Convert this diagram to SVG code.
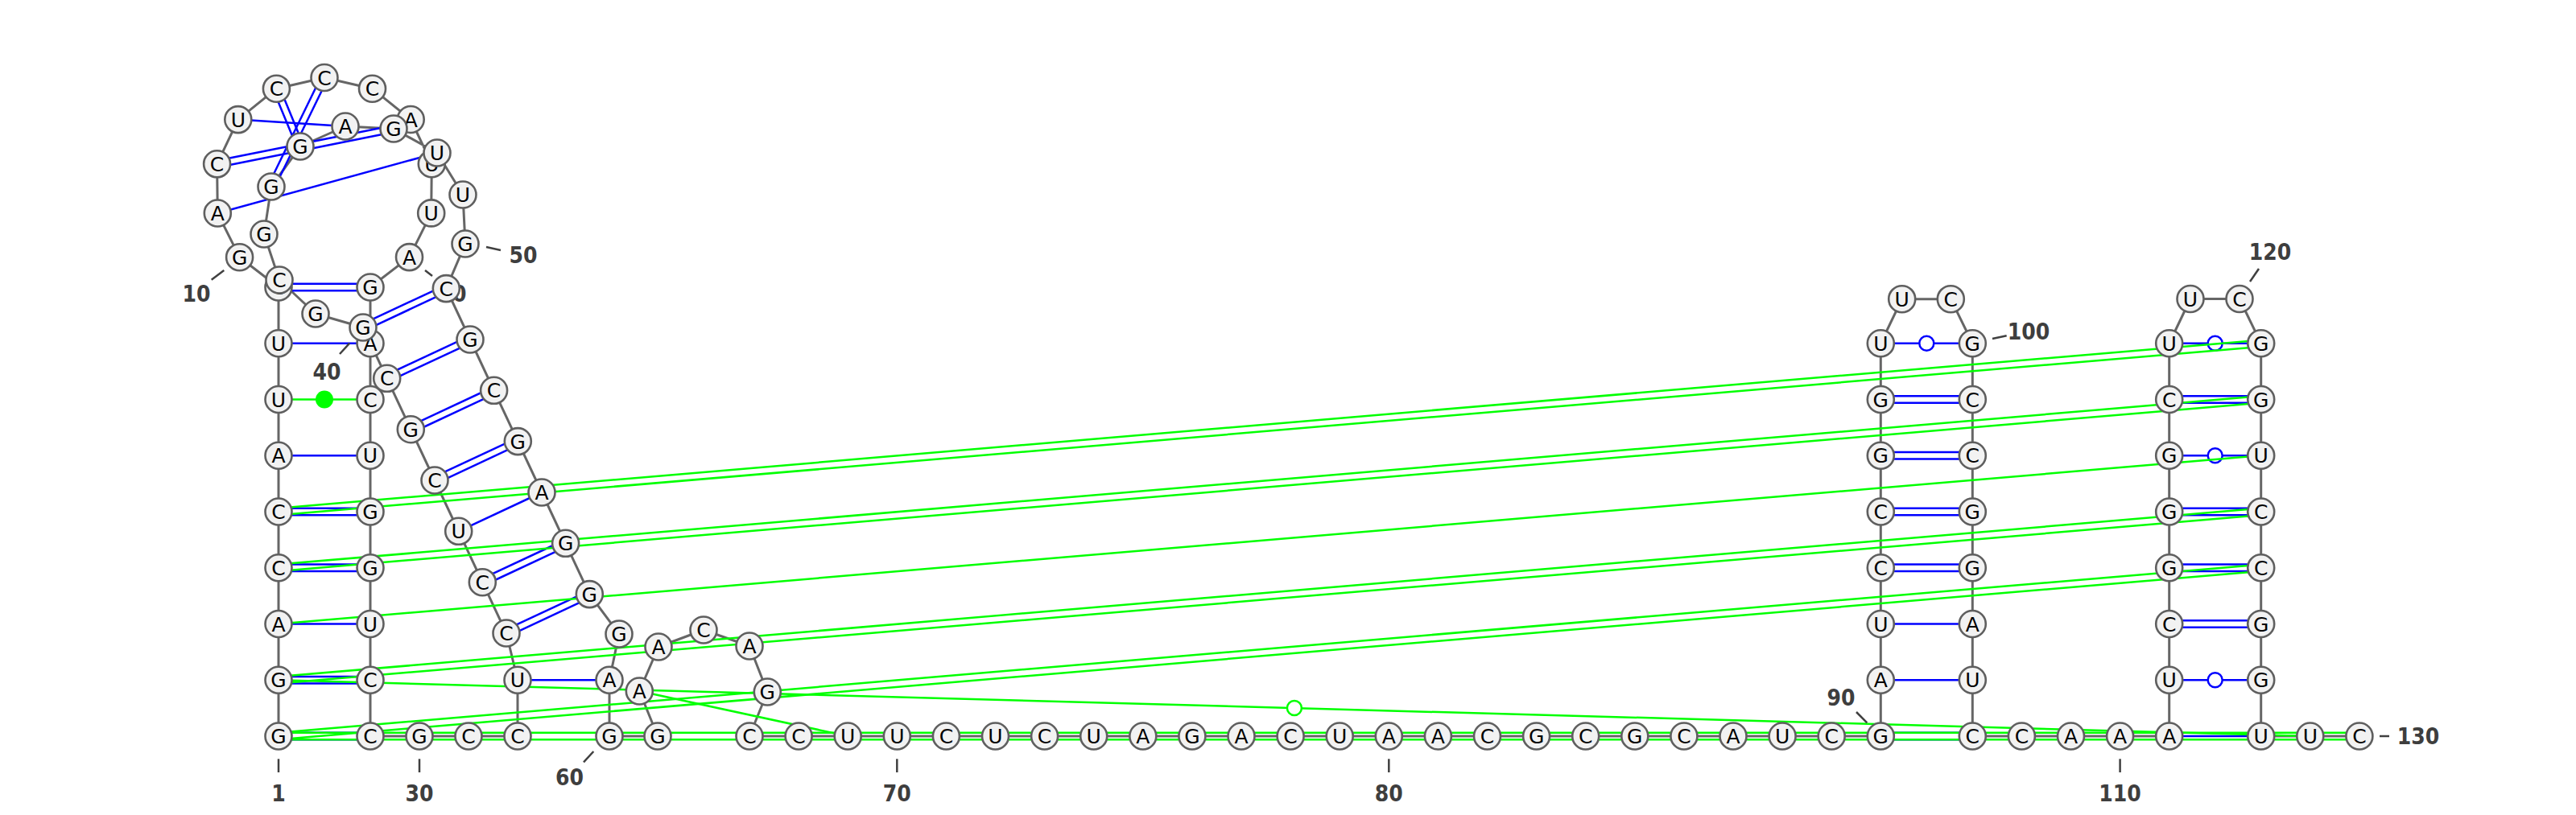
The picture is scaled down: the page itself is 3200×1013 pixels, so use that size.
<svg xmlns="http://www.w3.org/2000/svg" width="3200" height="1013" viewBox="0 0 3200 1013">
<style>
.bb{fill:none;stroke:#666666;stroke-width:3;stroke-linejoin:round}
.bp{stroke:#0000ff;stroke-width:2.5;fill:none}
.ap{stroke:#00ff00;stroke-width:2.5;fill:none}
.wb{fill:#ffffff;stroke:#0000ff;stroke-width:2.5}
.wg{fill:#ffffff;stroke:#00ff00;stroke-width:2.5}
.fg{fill:#00ff00;stroke:none}
.tk{stroke:#404040;stroke-width:2.5}
.lb{font-family:'DejaVu Sans',sans-serif;font-size:28px;font-weight:bold;fill:#3e3e3e;text-anchor:middle}
.nd circle{fill:#f2f2f2;stroke:#5f5f5f;stroke-width:2.6}
.nd text{font-family:'DejaVu Sans',sans-serif;font-size:25px;fill:#000000;text-anchor:middle}
</style>
<rect width="3200" height="1013" fill="#ffffff"/>
<g id="connectors">
<polyline class="bb" points="346,915 346,845.25 346,775.5 346,705.75 346,636 346,566.25 346,496.5 346,426.75 346,357 297.6,319.7 270.3,265 269.6,203.8 295.8,148.6 343.4,110.2 403,96.5 462.5,110.2 510.2,148.5 536.3,203.7 535.7,264.9 508.5,319.6 460,357 460,426.75 460,496.5 460,566.25 460,636 460,705.75 460,775.5 460,845.25 460,915 521,915 582,915 643,915 643,845.25 629,787 599.3,723.7 569.7,660.3 540,597 510.3,533.7 480.7,470.3 451,407 392,390 347,348 328,291 337,232 373,182 429,157 489,160 543,190 575,242 578,303 554.3,358.6 584,422 613.6,485.3 643.3,548.6 673,612 702.6,675.3 732.3,738.6 769,788 757,845.25 757,915 817,915 794.3,859 818,804 874,783 931,803 953.3,860 931,915 2336.3,915 2336.3,845.25 2336.3,775.5 2336.3,705.75 2336.3,636 2336.3,566.25 2336.3,496.5 2336.3,426.75 2362.7,371.7 2423.3,371.7 2450.3,426.75 2450.3,496.5 2450.3,566.25 2450.3,636 2450.3,705.75 2450.3,775.5 2450.3,845.25 2450.3,915 2694.7,915 2694.7,845.25 2694.7,775.5 2694.7,705.75 2694.7,636 2694.7,566.25 2694.7,496.5 2694.7,426.75 2721,371.5 2782,371.5 2808.7,426.75 2808.7,496.5 2808.7,566.25 2808.7,636 2808.7,705.75 2808.7,775.5 2808.7,845.25 2808.7,915 2930.9,915"/>
<g id="pairs">
<line class="bp" x1="346" y1="910.8" x2="460" y2="910.8"/><line class="bp" x1="346" y1="919.2" x2="460" y2="919.2"/>
<line class="bp" x1="346" y1="841.05" x2="460" y2="841.05"/><line class="bp" x1="346" y1="849.45" x2="460" y2="849.45"/>
<line class="bp" x1="346" y1="775.5" x2="460" y2="775.5"/>
<line class="bp" x1="346" y1="701.55" x2="460" y2="701.55"/><line class="bp" x1="346" y1="709.95" x2="460" y2="709.95"/>
<line class="bp" x1="346" y1="631.8" x2="460" y2="631.8"/><line class="bp" x1="346" y1="640.2" x2="460" y2="640.2"/>
<line class="bp" x1="346" y1="566.25" x2="460" y2="566.25"/>
<line class="bp" x1="346" y1="426.75" x2="460" y2="426.75"/>
<line class="bp" x1="346" y1="352.8" x2="460" y2="352.8"/><line class="bp" x1="346" y1="361.2" x2="460" y2="361.2"/>
<line class="bp" x1="270.3" y1="265" x2="543" y2="190"/>
<line class="bp" x1="270.4" y1="207.9" x2="489.8" y2="164.1"/><line class="bp" x1="268.8" y1="199.7" x2="488.2" y2="155.9"/>
<line class="bp" x1="295.8" y1="148.6" x2="429" y2="157"/>
<line class="bp" x1="339.5" y1="111.8" x2="369.1" y2="183.6"/><line class="bp" x1="347.3" y1="108.6" x2="376.9" y2="180.4"/>
<line class="bp" x1="399.2" y1="94.7" x2="333.2" y2="230.2"/><line class="bp" x1="406.8" y1="98.3" x2="340.8" y2="233.8"/>
<line class="bp" x1="643" y1="845.25" x2="757" y2="845.25"/>
<line class="bp" x1="630.8" y1="790.8" x2="734.1" y2="742.4"/><line class="bp" x1="627.2" y1="783.2" x2="730.5" y2="734.8"/>
<line class="bp" x1="601.1" y1="727.5" x2="704.4" y2="679.1"/><line class="bp" x1="597.5" y1="719.9" x2="700.8" y2="671.5"/>
<line class="bp" x1="569.7" y1="660.3" x2="673" y2="612"/>
<line class="bp" x1="541.8" y1="600.8" x2="645.1" y2="552.4"/><line class="bp" x1="538.2" y1="593.2" x2="641.5" y2="544.8"/>
<line class="bp" x1="512.1" y1="537.5" x2="615.4" y2="489.1"/><line class="bp" x1="508.5" y1="529.9" x2="611.8" y2="481.5"/>
<line class="bp" x1="482.5" y1="474.1" x2="585.8" y2="425.8"/><line class="bp" x1="478.9" y1="466.5" x2="582.2" y2="418.2"/>
<line class="bp" x1="452.8" y1="410.8" x2="556.1" y2="362.4"/><line class="bp" x1="449.2" y1="403.2" x2="552.5" y2="354.8"/>
<line class="bp" x1="2336.3" y1="910.8" x2="2450.3" y2="910.8"/><line class="bp" x1="2336.3" y1="919.2" x2="2450.3" y2="919.2"/>
<line class="bp" x1="2336.3" y1="845.25" x2="2450.3" y2="845.25"/>
<line class="bp" x1="2336.3" y1="775.5" x2="2450.3" y2="775.5"/>
<line class="bp" x1="2336.3" y1="701.55" x2="2450.3" y2="701.55"/><line class="bp" x1="2336.3" y1="709.95" x2="2450.3" y2="709.95"/>
<line class="bp" x1="2336.3" y1="631.8" x2="2450.3" y2="631.8"/><line class="bp" x1="2336.3" y1="640.2" x2="2450.3" y2="640.2"/>
<line class="bp" x1="2336.3" y1="562.05" x2="2450.3" y2="562.05"/><line class="bp" x1="2336.3" y1="570.45" x2="2450.3" y2="570.45"/>
<line class="bp" x1="2336.3" y1="492.3" x2="2450.3" y2="492.3"/><line class="bp" x1="2336.3" y1="500.7" x2="2450.3" y2="500.7"/>
<line class="bp" x1="2336.3" y1="426.75" x2="2450.3" y2="426.75"/><circle class="wb" cx="2393.3" cy="426.75" r="9"/>
<line class="bp" x1="2694.7" y1="915" x2="2808.7" y2="915"/>
<line class="bp" x1="2694.7" y1="845.25" x2="2808.7" y2="845.25"/><circle class="wb" cx="2751.7" cy="845.25" r="9"/>
<line class="bp" x1="2694.7" y1="771.3" x2="2808.7" y2="771.3"/><line class="bp" x1="2694.7" y1="779.7" x2="2808.7" y2="779.7"/>
<line class="bp" x1="2694.7" y1="701.55" x2="2808.7" y2="701.55"/><line class="bp" x1="2694.7" y1="709.95" x2="2808.7" y2="709.95"/>
<line class="bp" x1="2694.7" y1="631.8" x2="2808.7" y2="631.8"/><line class="bp" x1="2694.7" y1="640.2" x2="2808.7" y2="640.2"/>
<line class="bp" x1="2694.7" y1="566.25" x2="2808.7" y2="566.25"/><circle class="wb" cx="2751.7" cy="566.25" r="9"/>
<line class="bp" x1="2694.7" y1="492.3" x2="2808.7" y2="492.3"/><line class="bp" x1="2694.7" y1="500.7" x2="2808.7" y2="500.7"/>
<line class="bp" x1="2694.7" y1="426.75" x2="2808.7" y2="426.75"/><circle class="wb" cx="2751.7" cy="426.75" r="9"/>
</g>
<g id="tertiary">
<line class="ap" x1="346" y1="910.8" x2="2930.9" y2="910.8"/><line class="ap" x1="346" y1="919.2" x2="2930.9" y2="919.2"/>
<line class="ap" x1="346.4" y1="919.2" x2="2809.1" y2="709.9"/><line class="ap" x1="345.6" y1="910.8" x2="2808.3" y2="701.6"/>
<line class="ap" x1="346.4" y1="849.4" x2="2809.1" y2="640.2"/><line class="ap" x1="345.6" y1="841.1" x2="2808.3" y2="631.8"/>
<line class="ap" x1="346" y1="775.5" x2="2808.7" y2="566.25"/>
<line class="ap" x1="346.4" y1="709.9" x2="2809.1" y2="500.7"/><line class="ap" x1="345.6" y1="701.6" x2="2808.3" y2="492.3"/>
<line class="ap" x1="346.4" y1="640.2" x2="2809.1" y2="430.9"/><line class="ap" x1="345.6" y1="631.8" x2="2808.3" y2="422.6"/>
<line class="ap" x1="346" y1="845.25" x2="2869.8" y2="915"/><circle class="wg" cx="1607.9" cy="880.1" r="9"/>
<line class="ap" x1="346" y1="496.5" x2="460" y2="496.5"/><circle class="fg" cx="403" cy="496.5" r="11"/>
<line class="ap" x1="794.3" y1="859" x2="1053.2" y2="915"/>
</g>
</g>
<g id="labels">
<line class="tk" x1="346" y1="943.3" x2="346" y2="960"/><text class="lb" x="346" y="996" textLength="17.5" lengthAdjust="spacingAndGlyphs">1</text>
<line class="tk" x1="262.7" y1="347.7" x2="278.3" y2="336"/><text class="lb" x="244" y="375" textLength="35" lengthAdjust="spacingAndGlyphs">10</text>
<line class="tk" x1="528" y1="336" x2="537" y2="343"/><text class="lb" x="562" y="375" textLength="35" lengthAdjust="spacingAndGlyphs">20</text>
<line class="tk" x1="521" y1="943.3" x2="521" y2="960"/><text class="lb" x="521" y="996" textLength="35" lengthAdjust="spacingAndGlyphs">30</text>
<line class="tk" x1="422" y1="440" x2="434.2" y2="426.7"/><text class="lb" x="406" y="471.7" textLength="35" lengthAdjust="spacingAndGlyphs">40</text>
<line class="tk" x1="604" y1="307" x2="622" y2="311"/><text class="lb" x="650" y="327" textLength="35" lengthAdjust="spacingAndGlyphs">50</text>
<line class="tk" x1="737.3" y1="934" x2="725" y2="947.3"/><text class="lb" x="707.5" y="976" textLength="35" lengthAdjust="spacingAndGlyphs">60</text>
<line class="tk" x1="1114.3" y1="943.3" x2="1114.3" y2="960"/><text class="lb" x="1114.3" y="996" textLength="35" lengthAdjust="spacingAndGlyphs">70</text>
<line class="tk" x1="1725.3" y1="943.3" x2="1725.3" y2="960"/><text class="lb" x="1725.3" y="996" textLength="35" lengthAdjust="spacingAndGlyphs">80</text>
<line class="tk" x1="2306" y1="885" x2="2319.3" y2="898.3"/><text class="lb" x="2287" y="877" textLength="35" lengthAdjust="spacingAndGlyphs">90</text>
<line class="tk" x1="2475" y1="421" x2="2492.7" y2="417.3"/><text class="lb" x="2520" y="421.7" textLength="52.5" lengthAdjust="spacingAndGlyphs">100</text>
<line class="tk" x1="2633.6" y1="943.3" x2="2633.6" y2="960"/><text class="lb" x="2633.6" y="996" textLength="52.5" lengthAdjust="spacingAndGlyphs">110</text>
<line class="tk" x1="2806" y1="334" x2="2795" y2="350"/><text class="lb" x="2820" y="323.3" textLength="52.5" lengthAdjust="spacingAndGlyphs">120</text>
<line class="tk" x1="2956" y1="915" x2="2968" y2="915"/><text class="lb" x="3004" y="925" textLength="52.5" lengthAdjust="spacingAndGlyphs">130</text>
</g>
<g id="nodes">
<g id="n1" class="nd"><circle cx="346" cy="915" r="16.5"/><text x="346" y="924">G</text></g>
<g id="n2" class="nd"><circle cx="346" cy="845.25" r="16.5"/><text x="346" y="854.25">G</text></g>
<g id="n3" class="nd"><circle cx="346" cy="775.5" r="16.5"/><text x="346" y="784.5">A</text></g>
<g id="n4" class="nd"><circle cx="346" cy="705.75" r="16.5"/><text x="346" y="714.75">C</text></g>
<g id="n5" class="nd"><circle cx="346" cy="636" r="16.5"/><text x="346" y="645">C</text></g>
<g id="n6" class="nd"><circle cx="346" cy="566.25" r="16.5"/><text x="346" y="575.25">A</text></g>
<g id="n7" class="nd"><circle cx="346" cy="496.5" r="16.5"/><text x="346" y="505.5">U</text></g>
<g id="n8" class="nd"><circle cx="346" cy="426.75" r="16.5"/><text x="346" y="435.75">U</text></g>
<g id="n9" class="nd"><circle cx="346" cy="357" r="16.5"/><text x="346" y="366">C</text></g>
<g id="n10" class="nd"><circle cx="297.6" cy="319.7" r="16.5"/><text x="297.6" y="328.7">G</text></g>
<g id="n11" class="nd"><circle cx="270.3" cy="265" r="16.5"/><text x="270.3" y="274">A</text></g>
<g id="n12" class="nd"><circle cx="269.6" cy="203.8" r="16.5"/><text x="269.6" y="212.8">C</text></g>
<g id="n13" class="nd"><circle cx="295.8" cy="148.6" r="16.5"/><text x="295.8" y="157.6">U</text></g>
<g id="n14" class="nd"><circle cx="343.4" cy="110.2" r="16.5"/><text x="343.4" y="119.2">C</text></g>
<g id="n15" class="nd"><circle cx="403" cy="96.5" r="16.5"/><text x="403" y="105.5">C</text></g>
<g id="n16" class="nd"><circle cx="462.5" cy="110.2" r="16.5"/><text x="462.5" y="119.2">C</text></g>
<g id="n17" class="nd"><circle cx="510.2" cy="148.5" r="16.5"/><text x="510.2" y="157.5">A</text></g>
<g id="n18" class="nd"><circle cx="536.3" cy="203.7" r="16.5"/><text x="536.3" y="212.7">U</text></g>
<g id="n19" class="nd"><circle cx="535.7" cy="264.9" r="16.5"/><text x="535.7" y="273.9">U</text></g>
<g id="n20" class="nd"><circle cx="508.5" cy="319.6" r="16.5"/><text x="508.5" y="328.6">A</text></g>
<g id="n21" class="nd"><circle cx="460" cy="357" r="16.5"/><text x="460" y="366">G</text></g>
<g id="n22" class="nd"><circle cx="460" cy="426.75" r="16.5"/><text x="460" y="435.75">A</text></g>
<g id="n23" class="nd"><circle cx="460" cy="496.5" r="16.5"/><text x="460" y="505.5">C</text></g>
<g id="n24" class="nd"><circle cx="460" cy="566.25" r="16.5"/><text x="460" y="575.25">U</text></g>
<g id="n25" class="nd"><circle cx="460" cy="636" r="16.5"/><text x="460" y="645">G</text></g>
<g id="n26" class="nd"><circle cx="460" cy="705.75" r="16.5"/><text x="460" y="714.75">G</text></g>
<g id="n27" class="nd"><circle cx="460" cy="775.5" r="16.5"/><text x="460" y="784.5">U</text></g>
<g id="n28" class="nd"><circle cx="460" cy="845.25" r="16.5"/><text x="460" y="854.25">C</text></g>
<g id="n29" class="nd"><circle cx="460" cy="915" r="16.5"/><text x="460" y="924">C</text></g>
<g id="n30" class="nd"><circle cx="521" cy="915" r="16.5"/><text x="521" y="924">G</text></g>
<g id="n31" class="nd"><circle cx="582" cy="915" r="16.5"/><text x="582" y="924">C</text></g>
<g id="n32" class="nd"><circle cx="643" cy="915" r="16.5"/><text x="643" y="924">C</text></g>
<g id="n33" class="nd"><circle cx="643" cy="845.25" r="16.5"/><text x="643" y="854.25">U</text></g>
<g id="n34" class="nd"><circle cx="629" cy="787" r="16.5"/><text x="629" y="796">C</text></g>
<g id="n35" class="nd"><circle cx="599.3" cy="723.7" r="16.5"/><text x="599.3" y="732.7">C</text></g>
<g id="n36" class="nd"><circle cx="569.7" cy="660.3" r="16.5"/><text x="569.7" y="669.3">U</text></g>
<g id="n37" class="nd"><circle cx="540" cy="597" r="16.5"/><text x="540" y="606">C</text></g>
<g id="n38" class="nd"><circle cx="510.3" cy="533.7" r="16.5"/><text x="510.3" y="542.7">G</text></g>
<g id="n39" class="nd"><circle cx="480.7" cy="470.3" r="16.5"/><text x="480.7" y="479.3">C</text></g>
<g id="n40" class="nd"><circle cx="451" cy="407" r="16.5"/><text x="451" y="416">G</text></g>
<g id="n41" class="nd"><circle cx="392" cy="390" r="16.5"/><text x="392" y="399">G</text></g>
<g id="n42" class="nd"><circle cx="347" cy="348" r="16.5"/><text x="347" y="357">C</text></g>
<g id="n43" class="nd"><circle cx="328" cy="291" r="16.5"/><text x="328" y="300">G</text></g>
<g id="n44" class="nd"><circle cx="337" cy="232" r="16.5"/><text x="337" y="241">G</text></g>
<g id="n45" class="nd"><circle cx="373" cy="182" r="16.5"/><text x="373" y="191">G</text></g>
<g id="n46" class="nd"><circle cx="429" cy="157" r="16.5"/><text x="429" y="166">A</text></g>
<g id="n47" class="nd"><circle cx="489" cy="160" r="16.5"/><text x="489" y="169">G</text></g>
<g id="n48" class="nd"><circle cx="543" cy="190" r="16.5"/><text x="543" y="199">U</text></g>
<g id="n49" class="nd"><circle cx="575" cy="242" r="16.5"/><text x="575" y="251">U</text></g>
<g id="n50" class="nd"><circle cx="578" cy="303" r="16.5"/><text x="578" y="312">G</text></g>
<g id="n51" class="nd"><circle cx="554.3" cy="358.6" r="16.5"/><text x="554.3" y="367.6">C</text></g>
<g id="n52" class="nd"><circle cx="584" cy="422" r="16.5"/><text x="584" y="431">G</text></g>
<g id="n53" class="nd"><circle cx="613.6" cy="485.3" r="16.5"/><text x="613.6" y="494.3">C</text></g>
<g id="n54" class="nd"><circle cx="643.3" cy="548.6" r="16.5"/><text x="643.3" y="557.6">G</text></g>
<g id="n55" class="nd"><circle cx="673" cy="612" r="16.5"/><text x="673" y="621">A</text></g>
<g id="n56" class="nd"><circle cx="702.6" cy="675.3" r="16.5"/><text x="702.6" y="684.3">G</text></g>
<g id="n57" class="nd"><circle cx="732.3" cy="738.6" r="16.5"/><text x="732.3" y="747.6">G</text></g>
<g id="n58" class="nd"><circle cx="769" cy="788" r="16.5"/><text x="769" y="797">G</text></g>
<g id="n59" class="nd"><circle cx="757" cy="845.25" r="16.5"/><text x="757" y="854.25">A</text></g>
<g id="n60" class="nd"><circle cx="757" cy="915" r="16.5"/><text x="757" y="924">G</text></g>
<g id="n61" class="nd"><circle cx="817" cy="915" r="16.5"/><text x="817" y="924">G</text></g>
<g id="n62" class="nd"><circle cx="794.3" cy="859" r="16.5"/><text x="794.3" y="868">A</text></g>
<g id="n63" class="nd"><circle cx="818" cy="804" r="16.5"/><text x="818" y="813">A</text></g>
<g id="n64" class="nd"><circle cx="874" cy="783" r="16.5"/><text x="874" y="792">C</text></g>
<g id="n65" class="nd"><circle cx="931" cy="803" r="16.5"/><text x="931" y="812">A</text></g>
<g id="n66" class="nd"><circle cx="953.3" cy="860" r="16.5"/><text x="953.3" y="869">G</text></g>
<g id="n67" class="nd"><circle cx="931" cy="915" r="16.5"/><text x="931" y="924">C</text></g>
<g id="n68" class="nd"><circle cx="992.1" cy="915" r="16.5"/><text x="992.1" y="924">C</text></g>
<g id="n69" class="nd"><circle cx="1053.2" cy="915" r="16.5"/><text x="1053.2" y="924">U</text></g>
<g id="n70" class="nd"><circle cx="1114.3" cy="915" r="16.5"/><text x="1114.3" y="924">U</text></g>
<g id="n71" class="nd"><circle cx="1175.4" cy="915" r="16.5"/><text x="1175.4" y="924">C</text></g>
<g id="n72" class="nd"><circle cx="1236.5" cy="915" r="16.5"/><text x="1236.5" y="924">U</text></g>
<g id="n73" class="nd"><circle cx="1297.6" cy="915" r="16.5"/><text x="1297.6" y="924">C</text></g>
<g id="n74" class="nd"><circle cx="1358.7" cy="915" r="16.5"/><text x="1358.7" y="924">U</text></g>
<g id="n75" class="nd"><circle cx="1419.8" cy="915" r="16.5"/><text x="1419.8" y="924">A</text></g>
<g id="n76" class="nd"><circle cx="1480.9" cy="915" r="16.5"/><text x="1480.9" y="924">G</text></g>
<g id="n77" class="nd"><circle cx="1542" cy="915" r="16.5"/><text x="1542" y="924">A</text></g>
<g id="n78" class="nd"><circle cx="1603.1" cy="915" r="16.5"/><text x="1603.1" y="924">C</text></g>
<g id="n79" class="nd"><circle cx="1664.2" cy="915" r="16.5"/><text x="1664.2" y="924">U</text></g>
<g id="n80" class="nd"><circle cx="1725.3" cy="915" r="16.5"/><text x="1725.3" y="924">A</text></g>
<g id="n81" class="nd"><circle cx="1786.4" cy="915" r="16.5"/><text x="1786.4" y="924">A</text></g>
<g id="n82" class="nd"><circle cx="1847.5" cy="915" r="16.5"/><text x="1847.5" y="924">C</text></g>
<g id="n83" class="nd"><circle cx="1908.6" cy="915" r="16.5"/><text x="1908.6" y="924">G</text></g>
<g id="n84" class="nd"><circle cx="1969.7" cy="915" r="16.5"/><text x="1969.7" y="924">C</text></g>
<g id="n85" class="nd"><circle cx="2030.8" cy="915" r="16.5"/><text x="2030.8" y="924">G</text></g>
<g id="n86" class="nd"><circle cx="2091.9" cy="915" r="16.5"/><text x="2091.9" y="924">C</text></g>
<g id="n87" class="nd"><circle cx="2153" cy="915" r="16.5"/><text x="2153" y="924">A</text></g>
<g id="n88" class="nd"><circle cx="2214.1" cy="915" r="16.5"/><text x="2214.1" y="924">U</text></g>
<g id="n89" class="nd"><circle cx="2275.2" cy="915" r="16.5"/><text x="2275.2" y="924">C</text></g>
<g id="n90" class="nd"><circle cx="2336.3" cy="915" r="16.5"/><text x="2336.3" y="924">G</text></g>
<g id="n91" class="nd"><circle cx="2336.3" cy="845.25" r="16.5"/><text x="2336.3" y="854.25">A</text></g>
<g id="n92" class="nd"><circle cx="2336.3" cy="775.5" r="16.5"/><text x="2336.3" y="784.5">U</text></g>
<g id="n93" class="nd"><circle cx="2336.3" cy="705.75" r="16.5"/><text x="2336.3" y="714.75">C</text></g>
<g id="n94" class="nd"><circle cx="2336.3" cy="636" r="16.5"/><text x="2336.3" y="645">C</text></g>
<g id="n95" class="nd"><circle cx="2336.3" cy="566.25" r="16.5"/><text x="2336.3" y="575.25">G</text></g>
<g id="n96" class="nd"><circle cx="2336.3" cy="496.5" r="16.5"/><text x="2336.3" y="505.5">G</text></g>
<g id="n97" class="nd"><circle cx="2336.3" cy="426.75" r="16.5"/><text x="2336.3" y="435.75">U</text></g>
<g id="n98" class="nd"><circle cx="2362.7" cy="371.7" r="16.5"/><text x="2362.7" y="380.7">U</text></g>
<g id="n99" class="nd"><circle cx="2423.3" cy="371.7" r="16.5"/><text x="2423.3" y="380.7">C</text></g>
<g id="n100" class="nd"><circle cx="2450.3" cy="426.75" r="16.5"/><text x="2450.3" y="435.75">G</text></g>
<g id="n101" class="nd"><circle cx="2450.3" cy="496.5" r="16.5"/><text x="2450.3" y="505.5">C</text></g>
<g id="n102" class="nd"><circle cx="2450.3" cy="566.25" r="16.5"/><text x="2450.3" y="575.25">C</text></g>
<g id="n103" class="nd"><circle cx="2450.3" cy="636" r="16.5"/><text x="2450.3" y="645">G</text></g>
<g id="n104" class="nd"><circle cx="2450.3" cy="705.75" r="16.5"/><text x="2450.3" y="714.75">G</text></g>
<g id="n105" class="nd"><circle cx="2450.3" cy="775.5" r="16.5"/><text x="2450.3" y="784.5">A</text></g>
<g id="n106" class="nd"><circle cx="2450.3" cy="845.25" r="16.5"/><text x="2450.3" y="854.25">U</text></g>
<g id="n107" class="nd"><circle cx="2450.3" cy="915" r="16.5"/><text x="2450.3" y="924">C</text></g>
<g id="n108" class="nd"><circle cx="2511.4" cy="915" r="16.5"/><text x="2511.4" y="924">C</text></g>
<g id="n109" class="nd"><circle cx="2572.5" cy="915" r="16.5"/><text x="2572.5" y="924">A</text></g>
<g id="n110" class="nd"><circle cx="2633.6" cy="915" r="16.5"/><text x="2633.6" y="924">A</text></g>
<g id="n111" class="nd"><circle cx="2694.7" cy="915" r="16.5"/><text x="2694.7" y="924">A</text></g>
<g id="n112" class="nd"><circle cx="2694.7" cy="845.25" r="16.5"/><text x="2694.7" y="854.25">U</text></g>
<g id="n113" class="nd"><circle cx="2694.7" cy="775.5" r="16.5"/><text x="2694.7" y="784.5">C</text></g>
<g id="n114" class="nd"><circle cx="2694.7" cy="705.75" r="16.5"/><text x="2694.7" y="714.75">G</text></g>
<g id="n115" class="nd"><circle cx="2694.7" cy="636" r="16.5"/><text x="2694.7" y="645">G</text></g>
<g id="n116" class="nd"><circle cx="2694.7" cy="566.25" r="16.5"/><text x="2694.7" y="575.25">G</text></g>
<g id="n117" class="nd"><circle cx="2694.7" cy="496.5" r="16.5"/><text x="2694.7" y="505.5">C</text></g>
<g id="n118" class="nd"><circle cx="2694.7" cy="426.75" r="16.5"/><text x="2694.7" y="435.75">U</text></g>
<g id="n119" class="nd"><circle cx="2721" cy="371.5" r="16.5"/><text x="2721" y="380.5">U</text></g>
<g id="n120" class="nd"><circle cx="2782" cy="371.5" r="16.5"/><text x="2782" y="380.5">C</text></g>
<g id="n121" class="nd"><circle cx="2808.7" cy="426.75" r="16.5"/><text x="2808.7" y="435.75">G</text></g>
<g id="n122" class="nd"><circle cx="2808.7" cy="496.5" r="16.5"/><text x="2808.7" y="505.5">G</text></g>
<g id="n123" class="nd"><circle cx="2808.7" cy="566.25" r="16.5"/><text x="2808.7" y="575.25">U</text></g>
<g id="n124" class="nd"><circle cx="2808.7" cy="636" r="16.5"/><text x="2808.7" y="645">C</text></g>
<g id="n125" class="nd"><circle cx="2808.7" cy="705.75" r="16.5"/><text x="2808.7" y="714.75">C</text></g>
<g id="n126" class="nd"><circle cx="2808.7" cy="775.5" r="16.5"/><text x="2808.7" y="784.5">G</text></g>
<g id="n127" class="nd"><circle cx="2808.7" cy="845.25" r="16.5"/><text x="2808.7" y="854.25">G</text></g>
<g id="n128" class="nd"><circle cx="2808.7" cy="915" r="16.5"/><text x="2808.7" y="924">U</text></g>
<g id="n129" class="nd"><circle cx="2869.8" cy="915" r="16.5"/><text x="2869.8" y="924">U</text></g>
<g id="n130" class="nd"><circle cx="2930.9" cy="915" r="16.5"/><text x="2930.9" y="924">C</text></g>
</g>
</svg>
